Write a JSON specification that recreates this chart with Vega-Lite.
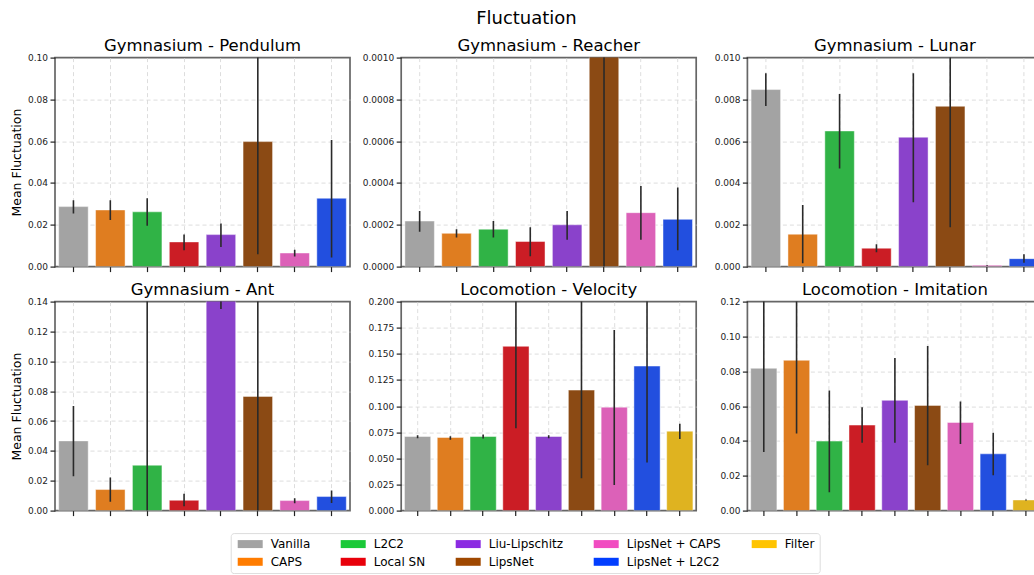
{
  "$schema": "https://vega.github.io/schema/vega-lite/v6.json",
  "padding": {"left": 9, "top": 9.6, "right": 0, "bottom": 0},
  "autosize": {"type": "pad"},
  "background": "white",
  "title": {"text": "Fluctuation", "fontSize": 18, "font": "DejaVu Sans", "fontWeight": "normal", "anchor": "middle", "baseline": "alphabetic", "offset": -4.8, "color": "#000"},
  "data": {"values": [
    {"panel": "Gymnasium - Pendulum", "method": "Vanilla", "value": 0.0287, "lo": 0.0254, "hi": 0.0317},
    {"panel": "Gymnasium - Pendulum", "method": "CAPS", "value": 0.0271, "lo": 0.0223, "hi": 0.0317},
    {"panel": "Gymnasium - Pendulum", "method": "L2C2", "value": 0.0262, "lo": 0.0196, "hi": 0.0327},
    {"panel": "Gymnasium - Pendulum", "method": "Local SN", "value": 0.0118, "lo": 0.0078, "hi": 0.0153},
    {"panel": "Gymnasium - Pendulum", "method": "Liu-Lipschitz", "value": 0.0153, "lo": 0.0094, "hi": 0.0206},
    {"panel": "Gymnasium - Pendulum", "method": "LipsNet", "value": 0.0598, "lo": 0.0059, "hi": 0.125},
    {"panel": "Gymnasium - Pendulum", "method": "LipsNet + CAPS", "value": 0.0065, "lo": 0.0048, "hi": 0.0081},
    {"panel": "Gymnasium - Pendulum", "method": "LipsNet + L2C2", "value": 0.0327, "lo": 0.0043, "hi": 0.0606},
    {"panel": "Gymnasium - Reacher", "method": "Vanilla", "value": 0.000218, "lo": 0.000167, "hi": 0.000266},
    {"panel": "Gymnasium - Reacher", "method": "CAPS", "value": 0.000159, "lo": 0.000139, "hi": 0.000179},
    {"panel": "Gymnasium - Reacher", "method": "L2C2", "value": 0.000179, "lo": 0.000139, "hi": 0.000218},
    {"panel": "Gymnasium - Reacher", "method": "Local SN", "value": 0.00012, "lo": 0.0000494, "hi": 0.000188},
    {"panel": "Gymnasium - Reacher", "method": "Liu-Lipschitz", "value": 0.0002, "lo": 0.000128, "hi": 0.000266},
    {"panel": "Gymnasium - Reacher", "method": "LipsNet", "value": 0.0019, "lo": -0.0004, "hi": 0.0045},
    {"panel": "Gymnasium - Reacher", "method": "LipsNet + CAPS", "value": 0.000258, "lo": 0.000129, "hi": 0.000386},
    {"panel": "Gymnasium - Reacher", "method": "LipsNet + L2C2", "value": 0.000226, "lo": 0.0000781, "hi": 0.000378},
    {"panel": "Gymnasium - Lunar", "method": "Vanilla", "value": 0.00847, "lo": 0.00769, "hi": 0.00925},
    {"panel": "Gymnasium - Lunar", "method": "CAPS", "value": 0.00155, "lo": 0.00016, "hi": 0.00295},
    {"panel": "Gymnasium - Lunar", "method": "L2C2", "value": 0.00649, "lo": 0.00469, "hi": 0.00826},
    {"panel": "Gymnasium - Lunar", "method": "Local SN", "value": 0.00088, "lo": 0.00069, "hi": 0.00107},
    {"panel": "Gymnasium - Lunar", "method": "Liu-Lipschitz", "value": 0.00619, "lo": 0.00308, "hi": 0.00925},
    {"panel": "Gymnasium - Lunar", "method": "LipsNet", "value": 0.00767, "lo": 0.00188, "hi": 0.0134},
    {"panel": "Gymnasium - Lunar", "method": "LipsNet + CAPS", "value": 0.00006, "lo": 0.00004, "hi": 0.00008},
    {"panel": "Gymnasium - Lunar", "method": "LipsNet + L2C2", "value": 0.00038, "lo": 0.00019, "hi": 0.00059},
    {"panel": "Gymnasium - Ant", "method": "Vanilla", "value": 0.0467, "lo": 0.023, "hi": 0.07},
    {"panel": "Gymnasium - Ant", "method": "CAPS", "value": 0.0141, "lo": 0.006, "hi": 0.0221},
    {"panel": "Gymnasium - Ant", "method": "L2C2", "value": 0.0304, "lo": -0.05, "hi": 0.2},
    {"panel": "Gymnasium - Ant", "method": "Local SN", "value": 0.0069, "lo": 0.0029, "hi": 0.0112},
    {"panel": "Gymnasium - Ant", "method": "Liu-Lipschitz", "value": 0.16, "lo": 0.135, "hi": 0.185},
    {"panel": "Gymnasium - Ant", "method": "LipsNet", "value": 0.0765, "lo": -0.02, "hi": 0.2},
    {"panel": "Gymnasium - Ant", "method": "LipsNet + CAPS", "value": 0.0067, "lo": 0.0049, "hi": 0.0083},
    {"panel": "Gymnasium - Ant", "method": "LipsNet + L2C2", "value": 0.0094, "lo": 0.0051, "hi": 0.0134},
    {"panel": "Locomotion - Velocity", "method": "Vanilla", "value": 0.0709, "lo": 0.0693, "hi": 0.0722},
    {"panel": "Locomotion - Velocity", "method": "CAPS", "value": 0.07, "lo": 0.0677, "hi": 0.0712},
    {"panel": "Locomotion - Velocity", "method": "L2C2", "value": 0.0709, "lo": 0.069, "hi": 0.0728},
    {"panel": "Locomotion - Velocity", "method": "Local SN", "value": 0.1572, "lo": 0.0789, "hi": 0.25},
    {"panel": "Locomotion - Velocity", "method": "Liu-Lipschitz", "value": 0.0709, "lo": 0.0693, "hi": 0.0722},
    {"panel": "Locomotion - Velocity", "method": "LipsNet", "value": 0.1153, "lo": 0.031, "hi": 0.21},
    {"panel": "Locomotion - Velocity", "method": "LipsNet + CAPS", "value": 0.099, "lo": 0.0246, "hi": 0.1728},
    {"panel": "Locomotion - Velocity", "method": "LipsNet + L2C2", "value": 0.1383, "lo": 0.046, "hi": 0.23},
    {"panel": "Locomotion - Velocity", "method": "Filter", "value": 0.076, "lo": 0.0684, "hi": 0.0831},
    {"panel": "Locomotion - Imitation", "method": "Vanilla", "value": 0.0817, "lo": 0.0337, "hi": 0.13},
    {"panel": "Locomotion - Imitation", "method": "CAPS", "value": 0.0863, "lo": 0.0443, "hi": 0.13},
    {"panel": "Locomotion - Imitation", "method": "L2C2", "value": 0.0399, "lo": 0.0105, "hi": 0.069},
    {"panel": "Locomotion - Imitation", "method": "Local SN", "value": 0.0491, "lo": 0.0389, "hi": 0.0594},
    {"panel": "Locomotion - Imitation", "method": "Liu-Lipschitz", "value": 0.0633, "lo": 0.0389, "hi": 0.0876},
    {"panel": "Locomotion - Imitation", "method": "LipsNet", "value": 0.0604, "lo": 0.0261, "hi": 0.0945},
    {"panel": "Locomotion - Imitation", "method": "LipsNet + CAPS", "value": 0.0506, "lo": 0.0383, "hi": 0.0627},
    {"panel": "Locomotion - Imitation", "method": "LipsNet + L2C2", "value": 0.0326, "lo": 0.0203, "hi": 0.0447},
    {"panel": "Locomotion - Imitation", "method": "Filter", "value": 0.0061, "lo": 0.0058, "hi": 0.0064}
  ]},
  "columns": 3,
  "bounds": "flush",
  "spacing": {"row": 35, "column": 51.2},
  "concat": [
    {
      "title": "Gymnasium - Pendulum",
      "width": 295, "height": 209,
      "transform": [{"filter": "datum.panel === 'Gymnasium - Pendulum'"}],
      "encoding": {"x": {"field": "method", "type": "nominal", "sort": ["Vanilla","CAPS","L2C2","Local SN","Liu-Lipschitz","LipsNet","LipsNet + CAPS","LipsNet + L2C2"], "scale": {"domain": ["Vanilla","CAPS","L2C2","Local SN","Liu-Lipschitz","LipsNet","LipsNet + CAPS","LipsNet + L2C2"], "paddingInner": 0.2, "paddingOuter": 0.1}, "axis": {"labels": false, "title": null}}},
      "layer": [
        {"mark": {"type": "bar", "clip": true, "stroke": "#ffffff", "strokeOpacity": 0.45, "strokeWidth": 1},
         "encoding": {
           "y": {"field": "value", "type": "quantitative", "scale": {"domain": [0, 0.1], "nice": false, "zero": false}, "axis": {"values": [0, 0.02, 0.04, 0.06, 0.08, 0.1], "tickCount": 20, "format": ".2f", "labelOverlap": false, "gridOpacity": {"condition": {"test": "datum.value <= 0 || datum.value >= 0.0999", "value": 0}, "value": 1}, "title": "Mean Fluctuation"}},
           "fill": {"field": "method", "type": "nominal", "scale": {"domain": ["Vanilla","CAPS","L2C2","Local SN","Liu-Lipschitz","LipsNet","LipsNet + CAPS","LipsNet + L2C2","Filter"], "range": ["#a3a3a3","#df7d20","#30b346","#cb1d25","#8a42cb","#8b4a14","#dc61b8","#224fdf","#dfb320"]}, "legend": null}}},
        {"mark": {"type": "bar", "clip": true},
         "encoding": {
           "y": {"datum": 0, "type": "quantitative"}, "y2": {"datum": 0},
           "color": {"field": "method", "type": "nominal", "scale": {"domain": ["Vanilla","L2C2","Liu-Lipschitz","LipsNet + CAPS","Filter","CAPS","Local SN","LipsNet","LipsNet + L2C2"], "range": ["#a3a3a3","#1ac938","#8b2be2","#f14cc1","#ffc400","#ff7c00","#e8000b","#9f4800","#023eff"]},
             "legend": {"orient": "none", "legendX": 175.7, "legendY": 475.5, "direction": "horizontal", "columns": 5, "title": null}}}},
        {"mark": {"type": "rule", "clip": true, "color": "#2a2a2a", "strokeWidth": 1.6},
         "encoding": {"y": {"field": "lo", "type": "quantitative"}, "y2": {"field": "hi"}}}
      ]
    },
    {
      "title": "Gymnasium - Reacher",
      "width": 295, "height": 209,
      "transform": [{"filter": "datum.panel === 'Gymnasium - Reacher'"}],
      "encoding": {"x": {"field": "method", "type": "nominal", "sort": ["Vanilla","CAPS","L2C2","Local SN","Liu-Lipschitz","LipsNet","LipsNet + CAPS","LipsNet + L2C2"], "scale": {"domain": ["Vanilla","CAPS","L2C2","Local SN","Liu-Lipschitz","LipsNet","LipsNet + CAPS","LipsNet + L2C2"], "paddingInner": 0.2, "paddingOuter": 0.1}, "axis": {"labels": false, "title": null}}},
      "layer": [
        {"mark": {"type": "bar", "clip": true, "stroke": "#ffffff", "strokeOpacity": 0.45, "strokeWidth": 1},
         "encoding": {
           "y": {"field": "value", "type": "quantitative", "scale": {"domain": [0, 0.001], "nice": false, "zero": false}, "axis": {"values": [0, 0.0002, 0.0004, 0.0006, 0.0008, 0.001], "tickCount": 20, "format": ".4f", "labelOverlap": false, "gridOpacity": {"condition": {"test": "datum.value <= 0 || datum.value >= 0.000999", "value": 0}, "value": 1}, "title": null}},
           "fill": {"field": "method", "type": "nominal", "legend": null}}},
        {"mark": {"type": "rule", "clip": true, "color": "#2a2a2a", "strokeWidth": 1.6},
         "encoding": {"y": {"field": "lo", "type": "quantitative"}, "y2": {"field": "hi"}}}
      ]
    },
    {
      "title": "Gymnasium - Lunar",
      "width": 295, "height": 209,
      "transform": [{"filter": "datum.panel === 'Gymnasium - Lunar'"}],
      "encoding": {"x": {"field": "method", "type": "nominal", "sort": ["Vanilla","CAPS","L2C2","Local SN","Liu-Lipschitz","LipsNet","LipsNet + CAPS","LipsNet + L2C2"], "scale": {"domain": ["Vanilla","CAPS","L2C2","Local SN","Liu-Lipschitz","LipsNet","LipsNet + CAPS","LipsNet + L2C2"], "paddingInner": 0.2, "paddingOuter": 0.1}, "axis": {"labels": false, "title": null}}},
      "layer": [
        {"mark": {"type": "bar", "clip": true, "stroke": "#ffffff", "strokeOpacity": 0.45, "strokeWidth": 1},
         "encoding": {
           "y": {"field": "value", "type": "quantitative", "scale": {"domain": [0, 0.01], "nice": false, "zero": false}, "axis": {"values": [0, 0.002, 0.004, 0.006, 0.008, 0.01], "tickCount": 20, "format": ".3f", "labelOverlap": false, "gridOpacity": {"condition": {"test": "datum.value <= 0 || datum.value >= 0.00999", "value": 0}, "value": 1}, "title": null}},
           "fill": {"field": "method", "type": "nominal", "legend": null}}},
        {"mark": {"type": "rule", "clip": true, "color": "#2a2a2a", "strokeWidth": 1.6},
         "encoding": {"y": {"field": "lo", "type": "quantitative"}, "y2": {"field": "hi"}}}
      ]
    },
    {
      "title": "Gymnasium - Ant",
      "width": 295, "height": 209,
      "transform": [{"filter": "datum.panel === 'Gymnasium - Ant'"}],
      "encoding": {"x": {"field": "method", "type": "nominal", "sort": ["Vanilla","CAPS","L2C2","Local SN","Liu-Lipschitz","LipsNet","LipsNet + CAPS","LipsNet + L2C2"], "scale": {"domain": ["Vanilla","CAPS","L2C2","Local SN","Liu-Lipschitz","LipsNet","LipsNet + CAPS","LipsNet + L2C2"], "paddingInner": 0.2, "paddingOuter": 0.1}, "axis": {"labels": false, "title": null}}},
      "layer": [
        {"mark": {"type": "bar", "clip": true, "stroke": "#ffffff", "strokeOpacity": 0.45, "strokeWidth": 1},
         "encoding": {
           "y": {"field": "value", "type": "quantitative", "scale": {"domain": [0, 0.14], "nice": false, "zero": false}, "axis": {"values": [0, 0.02, 0.04, 0.06, 0.08, 0.1, 0.12, 0.14], "tickCount": 20, "format": ".2f", "labelOverlap": false, "gridOpacity": {"condition": {"test": "datum.value <= 0 || datum.value >= 0.1399", "value": 0}, "value": 1}, "title": "Mean Fluctuation"}},
           "fill": {"field": "method", "type": "nominal", "legend": null}}},
        {"mark": {"type": "rule", "clip": true, "color": "#2a2a2a", "strokeWidth": 1.6},
         "encoding": {"y": {"field": "lo", "type": "quantitative"}, "y2": {"field": "hi"}}}
      ]
    },
    {
      "title": "Locomotion - Velocity",
      "width": 295, "height": 209,
      "transform": [{"filter": "datum.panel === 'Locomotion - Velocity'"}],
      "encoding": {"x": {"field": "method", "type": "nominal", "sort": ["Vanilla","CAPS","L2C2","Local SN","Liu-Lipschitz","LipsNet","LipsNet + CAPS","LipsNet + L2C2","Filter"], "scale": {"domain": ["Vanilla","CAPS","L2C2","Local SN","Liu-Lipschitz","LipsNet","LipsNet + CAPS","LipsNet + L2C2","Filter"], "paddingInner": 0.2, "paddingOuter": 0.1}, "axis": {"labels": false, "title": null}}},
      "layer": [
        {"mark": {"type": "bar", "clip": true, "stroke": "#ffffff", "strokeOpacity": 0.45, "strokeWidth": 1},
         "encoding": {
           "y": {"field": "value", "type": "quantitative", "scale": {"domain": [0, 0.2], "nice": false, "zero": false}, "axis": {"values": [0, 0.025, 0.05, 0.075, 0.1, 0.125, 0.15, 0.175, 0.2], "tickCount": 20, "format": ".3f", "labelOverlap": false, "gridOpacity": {"condition": {"test": "datum.value <= 0 || datum.value >= 0.1999", "value": 0}, "value": 1}, "title": null}},
           "fill": {"field": "method", "type": "nominal", "legend": null}}},
        {"mark": {"type": "rule", "clip": true, "color": "#2a2a2a", "strokeWidth": 1.6},
         "encoding": {"y": {"field": "lo", "type": "quantitative"}, "y2": {"field": "hi"}}}
      ]
    },
    {
      "title": "Locomotion - Imitation",
      "width": 295, "height": 209,
      "transform": [{"filter": "datum.panel === 'Locomotion - Imitation'"}],
      "encoding": {"x": {"field": "method", "type": "nominal", "sort": ["Vanilla","CAPS","L2C2","Local SN","Liu-Lipschitz","LipsNet","LipsNet + CAPS","LipsNet + L2C2","Filter"], "scale": {"domain": ["Vanilla","CAPS","L2C2","Local SN","Liu-Lipschitz","LipsNet","LipsNet + CAPS","LipsNet + L2C2","Filter"], "paddingInner": 0.2, "paddingOuter": 0.1}, "axis": {"labels": false, "title": null}}},
      "layer": [
        {"mark": {"type": "bar", "clip": true, "stroke": "#ffffff", "strokeOpacity": 0.45, "strokeWidth": 1},
         "encoding": {
           "y": {"field": "value", "type": "quantitative", "scale": {"domain": [0, 0.12], "nice": false, "zero": false}, "axis": {"values": [0, 0.02, 0.04, 0.06, 0.08, 0.1, 0.12], "tickCount": 20, "format": ".2f", "labelOverlap": false, "gridOpacity": {"condition": {"test": "datum.value <= 0 || datum.value >= 0.1199", "value": 0}, "value": 1}, "title": null}},
           "fill": {"field": "method", "type": "nominal", "legend": null}}},
        {"mark": {"type": "rule", "clip": true, "color": "#2a2a2a", "strokeWidth": 1.6},
         "encoding": {"y": {"field": "lo", "type": "quantitative"}, "y2": {"field": "hi"}}}
      ]
    }
  ],
  "resolve": {"scale": {"x": "independent", "y": "independent"}, "axis": {"x": "independent", "y": "independent"}},
  "config": {
    "font": "DejaVu Sans",
    "view": {"stroke": "#666666", "strokeWidth": 1.7},
    "title": {"fontSize": 16.5, "fontWeight": "normal", "font": "DejaVu Sans", "offset": -1, "baseline": "alphabetic", "color": "#000"},
    "axis": {"labelFont": "DejaVu Sans", "labelFontSize": 9, "labelColor": "#222", "labelOverlap": false, "tickColor": "#222", "tickSize": 5, "tickWidth": 1.2, "domain": false, "grid": true, "gridDash": [4, 3], "gridColor": "#d4d4d4", "gridWidth": 0.8, "titleFont": "DejaVu Sans", "titleFontWeight": "normal", "titleFontSize": 12.5, "titleColor": "#000", "labelPadding": 2.5, "titlePadding": 4},
    "legend": {"symbolType": "M-1,-1H5.25V1H-1Z", "symbolSize": 64, "symbolStrokeWidth": 0, "labelFontSize": 12, "labelFont": "DejaVu Sans", "labelColor": "#000", "labelOffset": 23, "columnPadding": 28, "rowPadding": 5.7, "padding": 5, "strokeColor": "#dcdcdc", "fillColor": "#ffffff", "cornerRadius": 3, "labelLimit": 200}
  }
}
